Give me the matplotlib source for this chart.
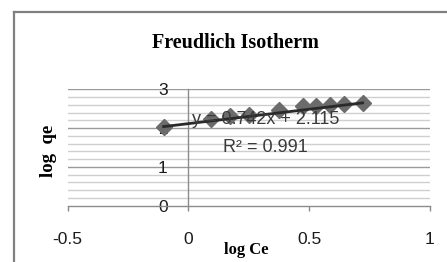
import matplotlib
matplotlib.use("Agg")
import matplotlib.pyplot as plt
import numpy as np
from matplotlib.ticker import MultipleLocator, FixedLocator

log_ce = [-0.103, 0.092, 0.172, 0.251, 0.375, 0.474, 0.526, 0.584, 0.645, 0.721]
log_qe = [2.04, 2.23, 2.30, 2.34, 2.47, 2.57, 2.57, 2.60, 2.63, 2.64]
slope, intercept = 0.742, 2.115
x_ticks = [-0.5, 0, 0.5, 1]
x_tick_labels = ["-0.5", "0", "0.5", "1"]
y_ticks = [0, 1, 2, 3]

W, H = 447, 262
fig = plt.figure(figsize=(W / 100, H / 100), dpi=100)
fig.patch.set_facecolor("white")

# chart-area border (top and left visible)
fig.add_artist(plt.Line2D([14 / W, 1.0], [1 - 11.5 / H, 1 - 11.5 / H], color="#808080", lw=1.6))
fig.add_artist(plt.Line2D([14 / W, 14 / W], [0, 1 - 11.5 / H], color="#808080", lw=1.6))

ax = fig.add_axes([67.7 / W, (H - 205.7) / H, 362.3 / W, 116.4 / H])
ax.set_xlim(-0.5, 1)
ax.set_ylim(0, 3)
ax.set_facecolor("none")

for s in ["top", "right"]:
    ax.spines[s].set_visible(False)
ax.spines["left"].set_position(("data", 0))
ax.spines["left"].set_color("#8c8c8c")
ax.spines["bottom"].set_color("#8c8c8c")
ax.spines["left"].set_linewidth(1.0)
ax.spines["bottom"].set_linewidth(1.0)

ax.yaxis.set_major_locator(FixedLocator(y_ticks))
ax.yaxis.set_minor_locator(MultipleLocator(0.2))
ax.xaxis.set_major_locator(FixedLocator(x_ticks))
ax.set_xticklabels(x_tick_labels)

for y in np.arange(0.2, 3.01, 0.2):
    if abs(y - round(y)) < 1e-6:
        ax.axhline(y, color="#9a9a9a", lw=1.0, zorder=0)
    else:
        ax.axhline(y, color="#cfcfcf", lw=1.0, zorder=0)

ax.tick_params(axis="x", direction="out", length=3.6, width=1.0, color="#8c8c8c",
               pad=15, labelsize=12.5, labelcolor="#1a1a1a")
ax.tick_params(axis="y", which="both", length=0, pad=15, labelsize=12.5, labelcolor="#1a1a1a")
for lab in ax.get_xticklabels() + ax.get_yticklabels():
    lab.set_fontfamily("Liberation Sans")

xs = np.array([min(log_ce), max(log_ce)])
ax.plot(log_ce, log_qe, linestyle="none", marker="D", markersize=8.5,
        color="#6b6b6b", markeredgecolor="#6b6b6b", zorder=3, clip_on=False)
ax.plot(xs, slope * xs + intercept, color="#2a2a2a", lw=2.0, zorder=4, clip_on=False)

ax.text(0.015, 2.21, "y = 0.742x + 2.115", fontsize=13, color="#3a3a3a",
        family="Liberation Sans", va="center", ha="left", zorder=5)
ax.text(0.143, 1.51, "R² = 0.991", fontsize=13, color="#3a3a3a",
        family="Liberation Sans", va="center", ha="left", zorder=5)

fig.text(235.5 / W, 1 - 43 / H, "Freudlich Isotherm", fontsize=14.5, fontweight="bold",
         family="Liberation Serif", ha="center", va="center")
fig.text(245.8 / W, 1 - 250 / H, "log Ce", fontsize=12, fontweight="bold",
         family="Liberation Serif", ha="center", va="center")
fig.text(48.8 / W, 1 - 150.8 / H, "log  qe", fontsize=13.5, fontweight="bold",
         family="Liberation Serif", ha="center", va="center", rotation=90)

fig.savefig("out.png", dpi=100)
